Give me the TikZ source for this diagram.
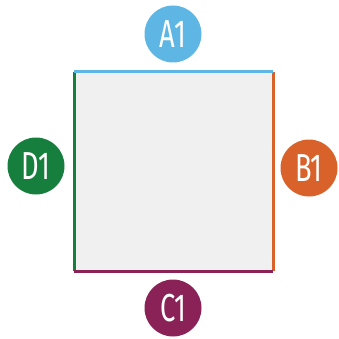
\documentclass[tikz,border=0pt]{standalone}
\usepackage{fontspec}
\setmainfont{Fira Sans}[FakeStretch=0.7]
\usetikzlibrary{positioning}
\definecolor{sideA}{HTML}{5DB6E4}
\definecolor{sideB}{HTML}{D9622B}
\definecolor{sideC}{HTML}{8B2257}
\definecolor{sideD}{HTML}{177F3D}
\definecolor{panel}{HTML}{F0F0F0}
\tikzset{
  tag/.style={circle, fill=#1, text=white, minimum size=57pt, inner sep=0pt,
    font=\fontsize{39}{39}\selectfont},
  side/.style={line width=3pt, draw=#1}
}

\begin{document}
\begin{tikzpicture}[x=1pt,y=-1pt]
\useasboundingbox (0,0) rectangle (338,339);
\coordinate (nw) at (74,72);
\coordinate (ne) at (273,72);
\coordinate (se) at (273,271);
\coordinate (sw) at (74,271);
\fill[panel] (nw) rectangle (se);
\draw[side=sideD] (nw)--(sw);
\draw[side=sideB] (ne)--(se);
\draw[side=sideC] (sw)--(se);
\draw[side=sideA] (nw)--(ne);
\node[tag=sideA] (a1) at (173,34) {A1};
\node[tag=sideB] (b1) at (309,168) {B1};
\node[tag=sideC] (c1) at (173,308) {C1};
\node[tag=sideD] (d1) at (36,166) {D1};
\end{tikzpicture}
\end{document}
